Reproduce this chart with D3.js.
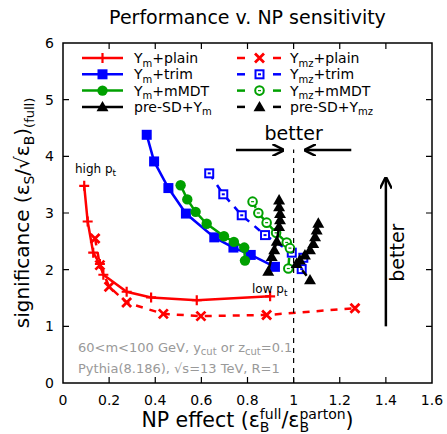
<!DOCTYPE html>
<html lang="en">
<head>
    <meta charset="UTF-8">
    <title>Performance v. NP sensitivity</title>
    <script src="https://cdn.jsdelivr.net/npm/d3@7/dist/d3.min.js"></script>
    <style>
        body { margin: 0; background: #fff; }
        text { font-family: "DejaVu Sans", sans-serif; }
    </style>
</head>
<body>
<svg width="447" height="434" id="main"></svg>
<script>
    // Ym series (solid lines)
    let plainX = [0.092, 0.107, 0.131, 0.160, 0.175, 0.276, 0.382, 0.580, 0.898];
    let plainY = [3.48, 2.85, 2.30, 2.10, 1.91, 1.61, 1.51, 1.46, 1.53];
    let trimX = [0.363, 0.395, 0.457, 0.533, 0.656, 0.739, 0.814, 0.919];
    let trimY = [4.38, 3.91, 3.44, 2.99, 2.57, 2.39, 2.26, 2.05];
    let mmdtX = [0.510, 0.539, 0.575, 0.623, 0.698, 0.741, 0.786, 0.789];
    let mmdtY = [3.49, 3.24, 3.02, 2.81, 2.59, 2.49, 2.39, 2.16];
    let preX = [0.937, 0.937, 0.941, 0.941, 0.937, 0.927, 0.916, 0.905, 0.890];
    let preY = [3.23, 3.11, 2.99, 2.88, 2.76, 2.50, 2.35, 2.23, 1.97];

    // Ymz series (dashed lines)
    let plainZX = [0.139, 0.160, 0.200, 0.276, 0.435, 0.598, 0.883, 1.266];
    let plainZY = [2.55, 2.08, 1.70, 1.42, 1.22, 1.18, 1.20, 1.32];
    let trimZX = [0.634, 0.695, 0.775, 0.876, 0.992, 1.042, 1.035];
    let trimZY = [3.70, 3.33, 2.96, 2.61, 2.30, 2.21, 2.01];
    let mmdtZX = [0.822, 0.847, 0.883, 0.924, 0.970, 0.984, 0.977];
    let mmdtZY = [3.20, 3.00, 2.83, 2.65, 2.48, 2.38, 2.02];
    let preZX = [1.107, 1.100, 1.093, 1.085, 1.071, 1.049, 1.027, 1.013, 1.071];
    let preZY = [2.82, 2.70, 2.58, 2.46, 2.35, 2.26, 2.17, 2.11, 1.82];

    let xTicks = [0, 0.2, 0.4, 0.6, 0.8, 1, 1.2, 1.4, 1.6];
    let yTicks = [0, 1, 2, 3, 4, 5, 6];

    let width = 447, height = 434;
    let margin = {top: 43, right: 15, bottom: 51, left: 63};

    let svg = d3.select('#main');
    let x = d3.scaleLinear().domain([0, 1.6]).range([margin.left, width - margin.right]);
    let y = d3.scaleLinear().domain([0, 6]).range([height - margin.bottom, margin.top]);

    let red = "#ff0000", blue = "#0000ff", green = "#00a000", black = "#000";

    // rich text in one <text>: tspans shifted up/down, "hold" parts don't advance (stacked sup/sub)
    function rich(parent, parts, size, fill) {
        let t = parent.append("text").attr("font-size", size).attr("fill", fill || "#000");
        let cur = 0, held = 0, pad = 0, total = 0;
        parts.forEach(p => {
            let off = p.dy || 0;
            let ts = t.append("tspan")
                .attr("dy", off - cur)
                .attr("font-size", p.size || size)
                .text(p.t);
            cur = off;
            let w = ts.node().getComputedTextLength();
            let dx = pad;
            pad = 0;
            if (held) {
                // sub under a held sup: step back, and pad the next part if the sup was wider
                dx -= held;
                pad = Math.max(0, held - w);
                total += Math.max(0, w - held);
                held = 0;
            } else {
                total += w;
            }
            if (dx) ts.attr("dx", dx);
            if (p.hold) held = w;
        });
        total += pad;
        return {t: t, width: total};
    }

    // markers
    function marker(g, kind, cx, cy, color) {
        if (kind === "plus") {
            g.append("path").attr("d", `M${cx - 5},${cy}H${cx + 5}M${cx},${cy - 5}V${cy + 5}`)
                .attr("stroke", color).attr("stroke-width", 2.2).attr("fill", "none");
        } else if (kind === "cross") {
            g.append("path").attr("d", `M${cx - 4.5},${cy - 4.5}L${cx + 4.5},${cy + 4.5}M${cx - 4.5},${cy + 4.5}L${cx + 4.5},${cy - 4.5}`)
                .attr("stroke", color).attr("stroke-width", 2.8).attr("fill", "none");
        } else if (kind === "square") {
            g.append("rect").attr("x", cx - 5).attr("y", cy - 5).attr("width", 10).attr("height", 10).attr("fill", color);
        } else if (kind === "osquare") {
            g.append("rect").attr("x", cx - 4).attr("y", cy - 4).attr("width", 8).attr("height", 8)
                .attr("fill", "#fff").attr("stroke", color).attr("stroke-width", 2);
            g.append("rect").attr("x", cx - 1.5).attr("y", cy - 1).attr("width", 3).attr("height", 2).attr("fill", color);
        } else if (kind === "circle") {
            g.append("circle").attr("cx", cx).attr("cy", cy).attr("r", 5.2).attr("fill", color);
        } else if (kind === "ocircle") {
            g.append("circle").attr("cx", cx).attr("cy", cy).attr("r", 4.3)
                .attr("fill", "#fff").attr("stroke", color).attr("stroke-width", 2);
            g.append("path").attr("d", `M${cx - 1.5},${cy}H${cx + 1.5}`).attr("stroke", color).attr("stroke-width", 1.2);
        } else if (kind === "tri") {
            g.append("path").attr("d", d3.symbol(d3.symbolTriangle, 62)())
                .attr("transform", `translate(${cx},${cy + 1})`).attr("fill", color);
        }
    }

    let series = [
        {xs: plainX, ys: plainY, color: red, kind: "plus", dash: null, name: ["m", "+plain"]},
        {xs: trimX, ys: trimY, color: blue, kind: "square", dash: null, name: ["m", "+trim"]},
        {xs: mmdtX, ys: mmdtY, color: green, kind: "circle", dash: null, name: ["m", "+mMDT"]},
        {xs: preX, ys: preY, color: black, kind: "tri", dash: null, name: ["m", ""], pre: true},
        {xs: plainZX, ys: plainZY, color: red, kind: "cross", dash: "7,7", name: ["mz", "+plain"]},
        {xs: trimZX, ys: trimZY, color: blue, kind: "osquare", dash: "7,7", name: ["mz", "+trim"]},
        {xs: mmdtZX, ys: mmdtZY, color: green, kind: "ocircle", dash: "7,7", name: ["mz", "+mMDT"]},
        {xs: preZX, ys: preZY, color: black, kind: "tri", dash: "7,7", name: ["mz", ""], pre: true}
    ];

    let plot = svg.append("g");
    let line = d3.line().x(d => x(d[0])).y(d => y(d[1]));

    // draw dashed first, then solid on top
    [4, 5, 6, 7, 0, 1, 2, 3].forEach(i => {
        let s = series[i];
        let pts = s.xs.map((v, j) => [v, s.ys[j]]);
        plot.append("path")
            .attr("d", line(pts))
            .attr("fill", "none")
            .attr("stroke", s.color)
            .attr("stroke-width", 2.5)
            .attr("stroke-dasharray", s.dash);
        let mg = plot.append("g");
        pts.forEach(p => marker(mg, s.kind, x(p[0]), y(p[1]), s.color));
    });

    // vertical dashed line at 1
    svg.append("line")
        .attr("x1", x(1)).attr("x2", x(1))
        .attr("y1", y(0)).attr("y2", y(4.12))
        .attr("stroke", "#000").attr("stroke-width", 1.2).attr("stroke-dasharray", "5,5");

    // arrows
    svg.append("defs").append("marker").attr("id", "ah")
        .attr("viewBox", "0 0 10 10").attr("refX", 9).attr("refY", 5)
        .attr("markerWidth", 12).attr("markerHeight", 12).attr("orient", "auto")
        .attr("markerUnits", "userSpaceOnUse")
        .append("path").attr("d", "M0,0L10,5L0,10").attr("fill", "none").attr("stroke", "#000").attr("stroke-width", 2);

    function arrow(x1, y1, x2, y2) {
        svg.append("line")
            .attr("x1", x(x1)).attr("y1", y(y1)).attr("x2", x(x2)).attr("y2", y(y2))
            .attr("stroke", "#000").attr("stroke-width", 2.5)
            .attr("marker-end", "url(#ah)");
    }
    arrow(0.75, 4.11, 0.955, 4.11);
    arrow(1.25, 4.11, 1.05, 4.11);
    arrow(1.4, 1.0, 1.4, 3.62);

    svg.append("text")
        .attr("x", x(1)).attr("y", y(4.28))
        .attr("text-anchor", "middle").attr("font-size", 19)
        .text("better");
    svg.append("text")
        .attr("transform", `translate(${x(1.48)},${y(2.3)}) rotate(-90)`)
        .attr("text-anchor", "middle").attr("font-size", 19)
        .text("better");

    // pt labels
    rich(svg, [{t: "high p"}, {t: "t", size: 9, dy: 3}], 12).t.attr("x", 75).attr("y", 173);
    rich(svg, [{t: "low p"}, {t: "t", size: 9, dy: 3}], 12).t.attr("x", 252).attr("y", 293);

    // notes
    rich(svg, [
        {t: "60<m<100 GeV, y"}, {t: "cut", size: 10, dy: 3}, {t: " or z"}, {t: "cut", size: 10, dy: 3}, {t: "=0.1"}
    ], 13, "#999").t.attr("x", 78).attr("y", 352);
    svg.append("text").attr("x", 78).attr("y", 373).attr("font-size", 13).attr("fill", "#999")
        .text("Pythia(8.186), \u221As=13 TeV, R=1");

    // legend
    let leg = svg.append("g");
    series.forEach((s, i) => {
        let col = i < 4 ? 0 : 1;
        let row = i % 4;
        let cy = 58 + row * 16.3;
        let g = leg.append("g");
        if (col === 0) {
            g.append("line").attr("x1", 82).attr("x2", 123).attr("y1", cy).attr("y2", cy)
                .attr("stroke", s.color).attr("stroke-width", 2.5);
            marker(g, s.kind, 102.5, cy, s.color);
        } else {
            g.append("line").attr("x1", 237).attr("x2", 245).attr("y1", cy).attr("y2", cy)
                .attr("stroke", s.color).attr("stroke-width", 2.5);
            g.append("line").attr("x1", 273).attr("x2", 281).attr("y1", cy).attr("y2", cy)
                .attr("stroke", s.color).attr("stroke-width", 2.5);
            marker(g, s.kind, 259.5, cy, s.color);
        }
        let parts = s.pre
            ? [{t: "pre-SD+Y"}, {t: s.name[0], size: 10, dy: 3.5}]
            : [{t: "Y"}, {t: s.name[0], size: 10, dy: 3.5}, {t: s.name[1]}];
        rich(g, parts, 14).t.attr("x", col === 0 ? 134 : 290).attr("y", cy + 5);
    });

    // frame and ticks
    let axes = svg.append("g");
    axes.append("rect")
        .attr("x", x(0)).attr("y", y(6))
        .attr("width", x(1.6) - x(0)).attr("height", y(0) - y(6))
        .attr("fill", "none").attr("stroke", "#000").attr("stroke-width", 1.5);

    axes.selectAll(".xt").data(xTicks.slice(1, -1)).join("path")
        .attr("d", d => `M${x(d)},${y(0)}v-6M${x(d)},${y(6)}v6`)
        .attr("stroke", "#000").attr("stroke-width", 1.2);
    axes.selectAll(".yt").data(yTicks.slice(1, -1)).join("path")
        .attr("d", d => `M${x(0)},${y(d)}h6M${x(1.6)},${y(d)}h-6`)
        .attr("stroke", "#000").attr("stroke-width", 1.2);

    axes.selectAll(".xl").data(xTicks).join("text")
        .attr("x", d => x(d)).attr("y", y(0) + 22)
        .attr("text-anchor", "middle").attr("font-size", 14)
        .text(d => d3.format("")(d));
    axes.selectAll(".yl").data(yTicks).join("text")
        .attr("x", x(0) - 9).attr("y", d => y(d) + 5)
        .attr("text-anchor", "end").attr("font-size", 14)
        .text(d => d);

    // title
    svg.append("text")
        .attr("x", (x(0) + x(1.6)) / 2).attr("y", 24)
        .attr("text-anchor", "middle").attr("font-size", 19)
        .text("Performance v. NP sensitivity");

    // x label
    let xl = rich(svg, [
        {t: "NP effect (\u03B5"},
        {t: "full", size: 14, dy: -8, hold: true}, {t: "B", size: 14, dy: 5},
        {t: "/\u03B5"},
        {t: "parton", size: 14, dy: -8, hold: true}, {t: "B", size: 14, dy: 5},
        {t: ")"}
    ], 20.5);
    xl.t.attr("x", (x(0) + x(1.6)) / 2 - xl.width / 2).attr("y", 427);

    // y label
    let ylg = svg.append("g");
    let yl = rich(ylg, [
        {t: "significance (\u03B5"}, {t: "S", size: 14, dy: 5},
        {t: "/\u221A\u03B5"}, {t: "B", size: 14, dy: 5},
        {t: ")"}, {t: "(full)", size: 13, dy: 5}
    ], 20);
    yl.t.attr("x", -yl.width / 2).attr("y", 0);
    ylg.attr("transform", `translate(29,${(y(0) + y(6)) / 2}) rotate(-90)`);
</script>
</body>
</html>
